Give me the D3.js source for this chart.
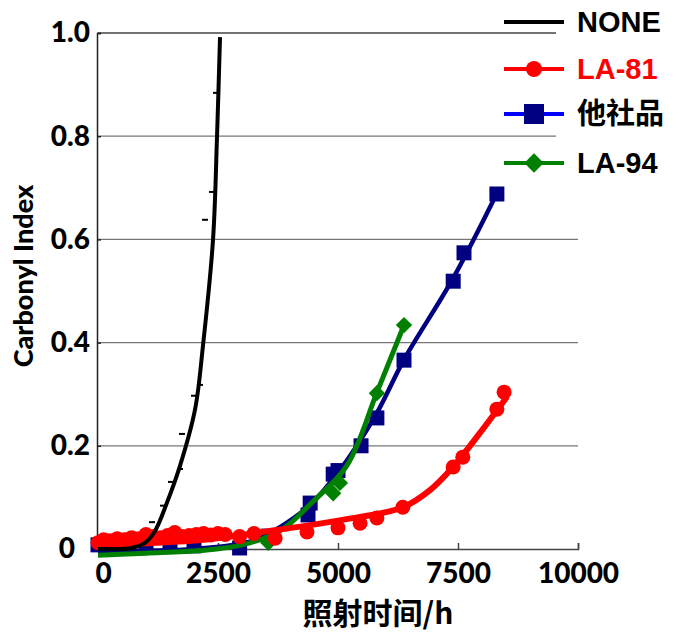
<!DOCTYPE html>
<html>
<head>
<meta charset="utf-8">
<script src="https://cdn.jsdelivr.net/npm/d3@7"></script>
<style>
  body { margin: 0; background: #fff; }
  svg { display: block; }
</style>
</head>
<body>
<svg id="chart"></svg>
<script>
const noneHours = [1125, 1354, 1521, 1708, 1750, 2000, 2125, 2229, 2375, 2458];
const noneCI = [0.052, 0.084, 0.130, 0.155, 0.223, 0.297, 0.318, 0.638, 0.692, 0.884];
const noneFitHours = [0, 400, 700, 979, 1188, 1438, 1708, 2021, 2188, 2396, 2479, 2542];
const noneFitCI = [0.0, 0.0, 0.002, 0.012, 0.035, 0.090, 0.161, 0.270, 0.395, 0.599, 0.798, 0.992];

const la81Hours = [0, 120, 250, 400, 550, 700, 850, 1000, 1150, 1300, 1450, 1600, 1750, 1900, 2050, 2200, 2350, 2500, 2650, 2950, 3250, 3690, 4354, 5000, 5460, 5810, 6350, 7400, 7600, 8310, 8460];
const la81CI = [0.012, 0.018, 0.016, 0.020, 0.018, 0.022, 0.020, 0.028, 0.024, 0.022, 0.026, 0.032, 0.024, 0.026, 0.028, 0.030, 0.027, 0.030, 0.028, 0.024, 0.030, 0.021, 0.033, 0.041, 0.050, 0.060, 0.081, 0.159, 0.178, 0.271, 0.304];
const la81FitHours = [0, 2200, 3800, 5000, 6354, 6917, 7396, 7958, 8521];
const la81FitCI = [0.008, 0.018, 0.038, 0.055, 0.081, 0.114, 0.159, 0.225, 0.295];

const otherHours = [0, 500, 1000, 1500, 2000, 2950, 3550, 4375, 4420, 4900, 5000, 5480, 5810, 6375, 7400, 7625, 8310];
const otherCI = [0.008, 0.006, 0.006, 0.008, 0.006, 0.002, 0.025, 0.066, 0.089, 0.145, 0.152, 0.200, 0.254, 0.366, 0.519, 0.574, 0.688];
const otherFitHours = [0, 2000, 3200, 3800, 4400, 5000, 5800, 6375, 7400, 8313];
const otherFitCI = [-0.004, 0.0, 0.015, 0.043, 0.084, 0.148, 0.262, 0.367, 0.525, 0.690];

const la94Hours = [3550, 4900, 5040, 5810, 6375];
const la94CI = [0.012, 0.108, 0.128, 0.302, 0.434];
const la94FitHours = [0, 1000, 2125, 3000, 3792, 4479, 5188, 5813, 6375];
const la94FitCI = [-0.012, -0.008, -0.003, 0.008, 0.035, 0.092, 0.162, 0.304, 0.434];

const xTicks = [0, 2500, 5000, 7500, 10000];
const yTicks = [0, 0.2, 0.4, 0.6, 0.8, 1.0];
const legendNames = ["NONE", "LA-81", "他社品", "LA-94"];

const width = 685, height = 634;
const svg = d3.select("#chart").attr("width", width).attr("height", height);

const x = d3.scaleLinear().domain([0, 10000]).range([98, 578]);
const y = d3.scaleLinear().domain([0, 1]).range([549, 33]);

const axisFont = "Lato, 'Open Sans', sans-serif";

// gridlines
svg.append("g").selectAll("line")
  .data(yTicks.filter(d => d > 0))
  .join("line")
  .attr("x1", x(0)).attr("x2", x(10000))
  .attr("y1", d => y(d)).attr("y2", d => y(d))
  .attr("stroke", d => d === 1 ? "#444" : "#777").attr("stroke-width", 1.3);

// axes
const xAxis = d3.axisBottom(x).tickValues(xTicks).tickSize(-6).tickFormat(d3.format("d"));
const yAxis = d3.axisLeft(y).tickValues(yTicks).tickSize(-4)
  .tickFormat(d => d === 0 ? "0" : d3.format(".1f")(d));

const xg = svg.append("g").attr("transform", `translate(0,${y(0)})`).call(xAxis);
xg.select(".domain").attr("stroke", "#444").attr("stroke-width", 1.5);
xg.selectAll(".tick line").attr("stroke", "#444").attr("stroke-width", 1.5);
xg.selectAll(".tick text")
  .attr("y", 14).attr("dy", "0.71em")
  .attr("x", d => d === 0 ? 5 : 0)
  .style("font-family", axisFont).style("font-weight", "900").style("font-size", "28px").attr("fill", "#000");

const yg = svg.append("g").attr("transform", `translate(${x(0) - 1},0)`).call(yAxis);
yg.select(".domain").attr("stroke", "#222").attr("stroke-width", 1.5);
yg.selectAll(".tick line").attr("stroke", "#222").attr("stroke-width", 1.5);
yg.selectAll(".tick text")
  .attr("x", d => d === 0 ? -22 : -7)
  .style("font-family", axisFont).style("font-weight", "900").style("font-size", "28px").attr("fill", "#000");

// axis titles
svg.append("text")
  .attr("transform", `translate(33,${276}) rotate(-90)`)
  .attr("text-anchor", "middle")
  .style("font-family", axisFont).style("font-weight", "900").style("font-size", "27px")
  .text("Carbonyl Index");

svg.append("text")
  .attr("x", 378).attr("y", 624)
  .attr("text-anchor", "middle")
  .style("font-family", "'Noto Sans CJK SC', sans-serif").style("font-weight", "bold").style("font-size", "30px")
  .text("照射时间/h");

const line = d3.line().x(d => x(d[0])).y(d => y(d[1])).curve(d3.curveCatmullRom.alpha(0.5));
const zip = (a, b) => a.map((v, i) => [v, b[i]]);

const plot = svg.append("g");

// 他社品 (navy)
plot.append("path").datum(zip(otherFitHours, otherFitCI))
  .attr("d", line).attr("fill", "none").attr("stroke", "#000080").attr("stroke-width", 4.5);
plot.append("g").selectAll("path").data(zip(otherHours, otherCI)).join("path")
  .attr("d", d3.symbol(d3.symbolSquare, 225))
  .attr("transform", d => `translate(${x(d[0])},${y(d[1])})`)
  .attr("fill", "#000080");

// LA-94 (green)
plot.append("path").datum(zip(la94FitHours, la94FitCI))
  .attr("d", line).attr("fill", "none").attr("stroke", "#008000").attr("stroke-width", 5);
plot.append("g").selectAll("path").data(zip(la94Hours, la94CI)).join("path")
  .attr("d", d3.symbol(d3.symbolDiamond2, 170))
  .attr("transform", d => `translate(${x(d[0])},${y(d[1])})`)
  .attr("fill", "#008000");

// LA-81 (red)
plot.append("path").datum(zip(la81FitHours, la81FitCI))
  .attr("d", line).attr("fill", "none").attr("stroke", "#ff0000").attr("stroke-width", 6);
plot.append("g").selectAll("circle").data(zip(la81Hours, la81CI)).join("circle")
  .attr("cx", d => x(d[0])).attr("cy", d => y(d[1])).attr("r", 7.5)
  .attr("fill", "#ff0000");

// NONE (black) - trend line with dash markers
plot.append("path").datum(zip(noneFitHours, noneFitCI))
  .attr("d", line).attr("fill", "none").attr("stroke", "#000").attr("stroke-width", 4);
plot.append("g").selectAll("line").data(zip(noneHours, noneCI)).join("line")
  .attr("x1", d => x(d[0]) - 3).attr("x2", d => x(d[0]) + 3)
  .attr("y1", d => y(d[1])).attr("y2", d => y(d[1]))
  .attr("stroke", "#000").attr("stroke-width", 2);

// legend
const legend = svg.append("g");
legend.append("rect").attr("x", 556).attr("y", 0).attr("width", 129).attr("height", 182).attr("fill", "#fff");

const legendColors = ["#000", "#ff0000", "#0000ff", "#008000"];
const legendText = ["#000", "#ff0000", "#000", "#000"];
const legendY = [22, 69, 114, 163];

legendNames.forEach((name, i) => {
  const g = legend.append("g").attr("transform", `translate(0,${legendY[i]})`);
  g.append("line").attr("x1", 504).attr("x2", 564).attr("y1", 0).attr("y2", 0)
    .attr("stroke", legendColors[i]).attr("stroke-width", 4);
  if (i === 1) {
    g.append("circle").attr("cx", 534).attr("cy", 0).attr("r", 8).attr("fill", "#ff0000");
  } else if (i === 2) {
    g.append("rect").attr("x", 524).attr("y", -10).attr("width", 20).attr("height", 20).attr("fill", "#000080");
  } else if (i === 3) {
    g.append("path").attr("d", d3.symbol(d3.symbolDiamond2, 240)).attr("transform", "translate(534,0)").attr("fill", "#008000");
  }
  g.append("text")
    .attr("x", 577).attr("y", 10)
    .style("font-family", i === 2 ? "'Noto Sans CJK SC', sans-serif" : "'Liberation Sans', Arial, sans-serif")
    .style("font-weight", "bold").style("font-size", "29px")
    .attr("fill", legendText[i])
    .text(name);
});
</script>
</body>
</html>
